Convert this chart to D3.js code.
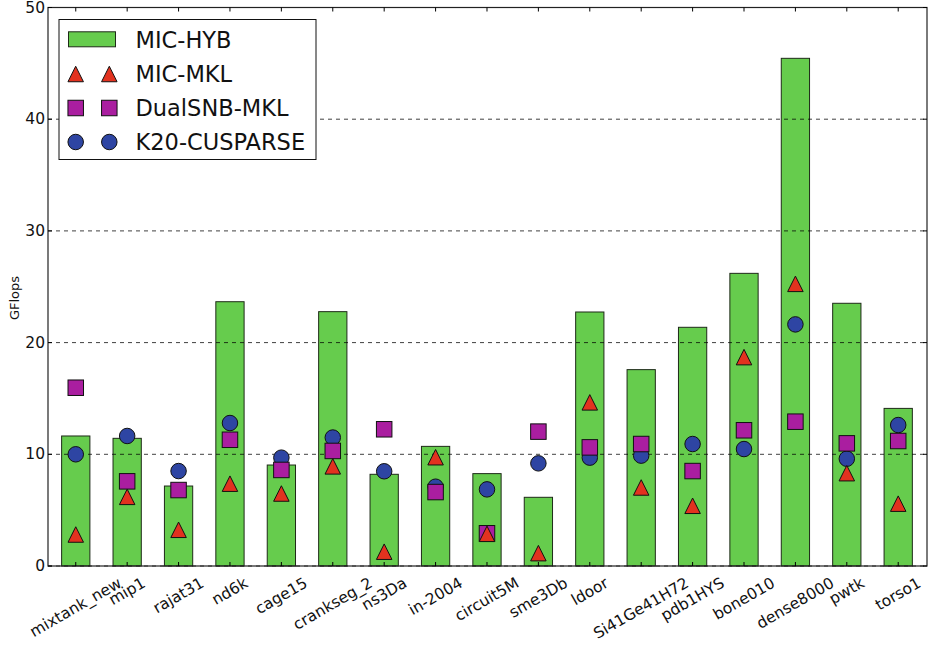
<!DOCTYPE html>
<html>
<head>
<meta charset="utf-8">
<script src="https://cdn.jsdelivr.net/npm/d3@7"></script>
<style>
  html, body { margin: 0; padding: 0; background: #fff; }
  svg { display: block; font-family: "DejaVu Sans", sans-serif; }
</style>
</head>
<body>
<svg id="chart" width="933" height="646"></svg>
<script>
// Sparse matrix-vector benchmark results (GFlops per matrix)
const categories = ["mixtank_new", "mip1", "rajat31", "nd6k", "cage15", "crankseg_2", "ns3Da",
  "in-2004", "circuit5M", "sme3Db", "ldoor", "Si41Ge41H72", "pdb1HYS", "bone010",
  "dense8000", "pwtk", "torso1"];
const micHyb    = [11.64, 11.43, 7.16, 23.66, 9.04, 22.77, 8.21, 10.71, 8.27, 6.15, 22.74, 17.58, 21.37, 26.2, 45.45, 23.52, 14.11];
const micMkl    = [2.82, 6.19, 3.24, 7.37, 6.49, 8.92, 1.28, 9.74, 2.88, 1.15, 14.65, 7.03, 5.39, 18.7, 25.26, 8.31, 5.58];
const dualSnbMkl = [15.96, 7.58, 6.8, 11.3, 8.6, 10.3, 12.24, 6.62, 2.93, 12.03, 10.62, 10.92, 8.5, 12.15, 12.92, 10.98, 11.19];
const k20Cusparse = [10.0, 11.64, 8.5, 12.8, 9.7, 11.5, 8.48, 7.1, 6.86, 9.19, 9.7, 9.88, 10.92, 10.47, 21.63, 9.6, 12.62];
const yTicks = [0, 10, 20, 30, 40, 50];
const seriesNames = ["MIC-HYB", "MIC-MKL", "DualSNB-MKL", "K20-CUSPARSE"];

const colors = { bar: "#66cc4d", tri: "#e2321f", sq: "#aa1ea0", circ: "#2e45a3" };

const svg = d3.select("#chart");
const plot = { left: 48, right: 927, top: 7.5, bottom: 566 };

const x = d3.scaleLinear().domain([-0.54, 16.56]).range([plot.left, plot.right]);
const y = d3.scaleLinear().domain([0, 50]).range([plot.bottom, plot.top]);
const barW = x(0.55) - x(0);
const idx = categories.map((_, i) => i);

// bars
svg.append("g").selectAll("rect").data(micHyb).join("rect")
  .attr("x", (d, i) => x(i) - barW / 2)
  .attr("y", d => y(d))
  .attr("width", barW)
  .attr("height", d => y(0) - y(d))
  .attr("fill", colors.bar)
  .attr("stroke", "#1e2a18")
  .attr("stroke-width", 1);

// dashed horizontal grid (drawn over the bars)
svg.append("g").selectAll("line").data(yTicks).join("line")
  .attr("x1", plot.left).attr("x2", plot.right)
  .attr("y1", d => y(d)).attr("y2", d => y(d))
  .attr("stroke", "#000").attr("stroke-opacity", 0.75)
  .attr("stroke-dasharray", "4,4").attr("stroke-width", 1);

// markers
const mk = 15.5;
const triPath = (cx, cy) => {
  const h = mk / 2;
  return `M${cx},${cy - h}L${cx + h},${cy + h}L${cx - h},${cy + h}Z`;
};
svg.append("g").selectAll("circle").data(k20Cusparse).join("circle")
  .attr("cx", (d, i) => x(i)).attr("cy", d => y(d)).attr("r", mk / 2)
  .attr("fill", colors.circ).attr("stroke", "#111").attr("stroke-width", 1);
svg.append("g").selectAll("rect").data(dualSnbMkl).join("rect")
  .attr("x", (d, i) => x(i) - mk / 2).attr("y", d => y(d) - mk / 2)
  .attr("width", mk).attr("height", mk)
  .attr("fill", colors.sq).attr("stroke", "#111").attr("stroke-width", 1);
svg.append("g").selectAll("path").data(micMkl).join("path")
  .attr("d", (d, i) => triPath(x(i), y(d)))
  .attr("fill", colors.tri).attr("stroke", "#111").attr("stroke-width", 1);

// frame
svg.append("rect")
  .attr("x", plot.left).attr("y", plot.top)
  .attr("width", plot.right - plot.left).attr("height", plot.bottom - plot.top)
  .attr("fill", "none").attr("stroke", "#222").attr("stroke-width", 1.2);

// inward ticks
const ticks = svg.append("g").attr("stroke", "#000").attr("stroke-width", 1);
idx.forEach(i => {
  ticks.append("line").attr("x1", x(i)).attr("x2", x(i)).attr("y1", plot.bottom).attr("y2", plot.bottom - 4);
  ticks.append("line").attr("x1", x(i)).attr("x2", x(i)).attr("y1", plot.top).attr("y2", plot.top + 4);
});
yTicks.forEach(t => {
  ticks.append("line").attr("x1", plot.left).attr("x2", plot.left + 4).attr("y1", y(t)).attr("y2", y(t));
  ticks.append("line").attr("x1", plot.right).attr("x2", plot.right - 4).attr("y1", y(t)).attr("y2", y(t));
});

// y tick labels
svg.append("g").selectAll("text").data(yTicks).join("text")
  .attr("x", plot.left - 3).attr("y", d => y(d))
  .attr("text-anchor", "end").attr("dominant-baseline", "central")
  .attr("font-size", 15.5).attr("fill", "#111")
  .text(d => d);

// y axis title
svg.append("text")
  .attr("transform", `translate(19,298) rotate(-90)`)
  .attr("text-anchor", "middle").attr("font-size", 13).attr("fill", "#111")
  .text("GFlops");

// rotated category labels, centred under each tick
const fs = 15.5, labelTop = 575, ang = 30 * Math.PI / 180;
const xl = svg.append("g");
categories.forEach((c, i) => {
  const t = xl.append("text")
    .attr("font-size", fs).attr("fill", "#111")
    .attr("text-anchor", "middle").attr("dominant-baseline", "central")
    .text(c);
  const L = t.node().getComputedTextLength();
  const H = L * Math.sin(ang) + fs * 1.0 * Math.cos(ang);
  t.attr("transform", `translate(${x(i)},${labelTop + H / 2}) rotate(-30)`);
});

// legend
const lg = svg.append("g");
lg.append("rect").attr("x", 59).attr("y", 19.5).attr("width", 257).attr("height", 140)
  .attr("fill", "#fff").attr("stroke", "#111").attr("stroke-width", 1);
const rowY = [39.3, 74, 108, 142];
const m1 = 75.7, m2 = 109.3, tx = 135.5, lfs = 22.5;
lg.append("rect").attr("x", 68.5).attr("y", rowY[0] - 7.5).attr("width", 47).attr("height", 15)
  .attr("fill", colors.bar).attr("stroke", "#1e2a18");
[m1, m2].forEach(mx => {
  lg.append("path").attr("d", triPath(mx, rowY[1])).attr("fill", colors.tri).attr("stroke", "#111");
  lg.append("rect").attr("x", mx - mk / 2).attr("y", rowY[2] - mk / 2).attr("width", mk).attr("height", mk)
    .attr("fill", colors.sq).attr("stroke", "#111");
  lg.append("circle").attr("cx", mx).attr("cy", rowY[3]).attr("r", mk / 2)
    .attr("fill", colors.circ).attr("stroke", "#111");
});
seriesNames.forEach((s, k) => {
  lg.append("text").attr("x", tx).attr("y", rowY[k] + lfs * 0.365)
    .attr("font-size", lfs).attr("fill", "#111").text(s);
});
</script>
</body>
</html>
